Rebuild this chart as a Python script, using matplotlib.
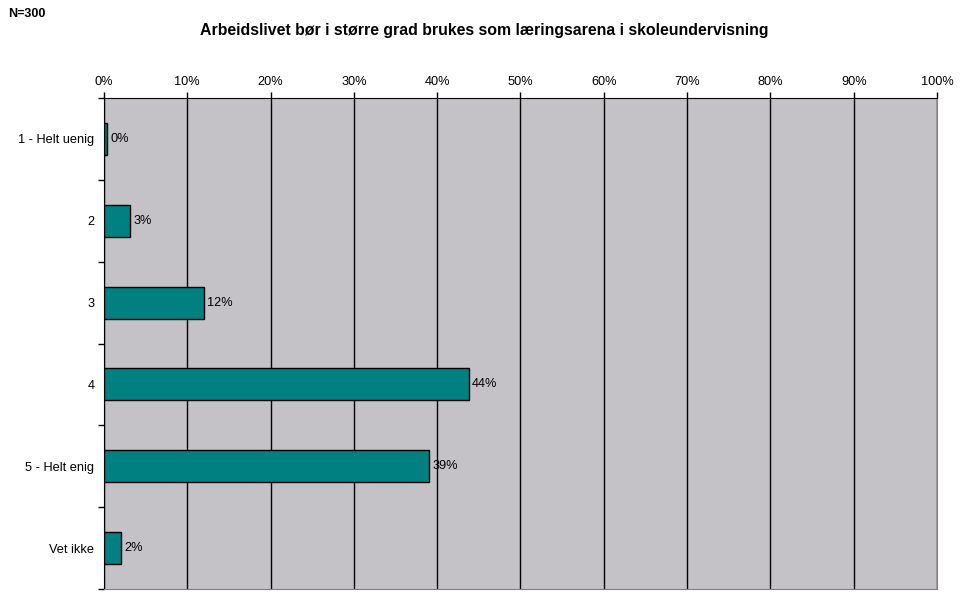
import matplotlib.pyplot as plt
import numpy as np

plt.rcParams['font.family'] = ['Liberation Sans', 'DejaVu Sans']

categories = ["1 - Helt uenig", "2", "3", "4", "5 - Helt enig", "Vet ikke"]
values = [0.4, 3.1, 12.0, 43.8, 39.0, 2.1]
labels = ["0%", "3%", "12%", "44%", "39%", "2%"]
title = "Arbeidslivet bør i større grad brukes som læringsarena i skoleundervisning"

fig = plt.figure(figsize=(9.7, 6.04), dpi=100)
ax = fig.add_axes([104 / 970, 1 - 589 / 604, 833 / 970, 491 / 604])
ax.set_facecolor('#c4c2c6')

y = np.arange(len(categories))
ax.barh(y, values, height=0.39, color='#008080', edgecolor='black',
        linewidth=1, zorder=3)
for yi, v, lab in zip(y, values, labels):
    ax.text(v + 0.4, yi, lab, va='center', ha='left', fontsize=9.2, zorder=4)

ax.set_xlim(0, 100)
ax.set_ylim(len(categories) - 0.5, -0.5)
ax.set_xticks(np.arange(0, 101, 10))
ax.set_xticklabels([f"{t}%" for t in range(0, 101, 10)], fontsize=9.2)
ax.xaxis.tick_top()
ax.tick_params(axis='x', direction='out', length=4, width=1, pad=3)
ax.grid(axis='x', color='black', linewidth=1, zorder=1)

ax.set_yticks(y)
ax.set_yticklabels(categories, fontsize=9.2)
ax.tick_params(axis='y', length=0, pad=7)
ax.set_yticks(np.arange(-0.5, len(categories), 1), minor=True)
ax.tick_params(axis='y', which='minor', direction='out', length=4, width=1)

ax.spines['top'].set_color('black')
ax.spines['left'].set_color('black')
ax.spines['right'].set_color('#808080')
ax.spines['bottom'].set_color('#808080')

fig.text(484 / 970, 1 - 31 / 604, title, ha='center', va='center',
         fontsize=11.4, fontweight='bold')
fig.text(8 / 970, 1 - 14 / 604, "N=300", ha='left', va='center',
         fontsize=9, fontweight='bold')

fig.savefig('out.png', dpi=100)
